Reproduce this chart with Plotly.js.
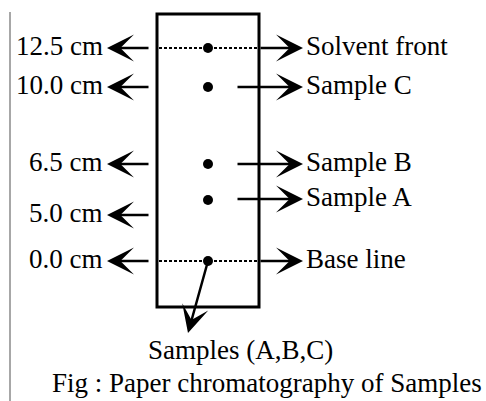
<!DOCTYPE html>
<html>
<head>
<meta charset="utf-8">
<script src="https://cdn.plot.ly/plotly-3.0.1.min.js"></script>
<style>
html,body{margin:0;padding:0;background:#fff;}
#chart{width:486px;height:401px;}
</style>
</head>
<body>
<div id="chart"></div>
<script>
// ---- data ----
const distanceLabels = ['12.5 cm', '10.0 cm', '6.5 cm', '5.0 cm', '0.0 cm'];
const sampleLabels = ['Solvent front', 'Sample C', 'Sample B', 'Sample A', 'Base line'];
const spotNames = ['Solvent front', 'Sample C', 'Sample B', 'Sample A', 'Base line'];
const bottomLabel = 'Samples (A,B,C)';
const figTitle = 'Fig : Paper chromatography of Samples';

// ---- schematic layout (diagram units, not to scale like the original) ----
const distanceRows = [48, 87, 164, 215, 261];
const sampleRows = [48, 87, 164, 199, 261];
const spotRows = [48, 87, 164, 200, 261];
const paper = {x0: 157, x1: 259, y0: 14, y1: 307};
const spotX = 208;

const FONT = {family: 'Liberation Serif, Times New Roman, serif', size: 27, color: '#000'};
const annotations = [];
const shapes = [];

// paper strip
shapes.push({type: 'rect', xref: 'x', yref: 'y', x0: paper.x0, x1: paper.x1, y0: paper.y0, y1: paper.y1,
  line: {color: '#000', width: 3}});
// dotted solvent front & base line
[spotRows[0], spotRows[4]].forEach(function (r) {
  shapes.push({type: 'line', xref: 'x', yref: 'y', x0: paper.x0 + 2, x1: paper.x1 - 1, y0: r, y1: r,
    line: {color: '#000', width: 2.2, dash: '3px,2px'}});
});
// thin grey rule on the left
shapes.push({type: 'line', xref: 'x', yref: 'y', x0: 10, x1: 10, y0: 12, y1: 401,
  line: {color: '#8a8a8a', width: 1.5}});

function arrow(xTip, yTip, xTail, yTail) {
  annotations.push({x: xTip, y: yTip, ax: xTail, ay: yTail, xref: 'x', yref: 'y', axref: 'x', ayref: 'y',
    text: '', showarrow: true, arrowhead: 3, arrowsize: 1.8, arrowwidth: 2.5, arrowcolor: '#000', standoff: 0, startstandoff: 0});
}

// left distance labels with arrows
distanceLabels.forEach(function (t, i) {
  arrow(107, distanceRows[i], 150, distanceRows[i]);
  annotations.push({x: 105, y: distanceRows[i], xref: 'x', yref: 'y', text: t, showarrow: false,
    xanchor: 'right', yanchor: 'middle', font: FONT, yshift: 2});
});
// right sample labels with arrows
sampleLabels.forEach(function (t, i) {
  const tail = (i === 0 || i === sampleLabels.length - 1) ? paper.x1 : 236;
  arrow(303, sampleRows[i], tail, sampleRows[i]);
  annotations.push({x: 304, y: sampleRows[i], xref: 'x', yref: 'y', text: t, showarrow: false,
    xanchor: 'left', yanchor: 'middle', font: FONT, yshift: 2});
});
// arrow from base spot to the bottom label
arrow(188, 333, spotX, spotRows[4]);
annotations.push({x: 240, y: 352, xref: 'x', yref: 'y', text: bottomLabel, showarrow: false,
  xanchor: 'center', yanchor: 'middle', font: FONT, yshift: 2});
annotations.push({x: 267, y: 385, xref: 'x', yref: 'y', text: figTitle, showarrow: false,
  xanchor: 'center', yanchor: 'middle', font: FONT, yshift: 2});

const spots = {
  type: 'scatter', mode: 'markers',
  x: spotNames.map(function () { return spotX; }),
  y: spotRows,
  text: spotNames,
  hoverinfo: 'text',
  marker: {color: '#000', size: 10},
  showlegend: false,
  cliponaxis: false
};

const layout = {
  width: 486, height: 401,
  margin: {l: 0, r: 0, t: 0, b: 0},
  paper_bgcolor: '#fff', plot_bgcolor: '#fff',
  xaxis: {range: [0, 486], visible: false, fixedrange: true},
  yaxis: {range: [401, 0], visible: false, fixedrange: true},
  shapes: shapes,
  annotations: annotations,
  showlegend: false
};

Plotly.newPlot('chart', [spots], layout, {displayModeBar: false, staticPlot: true});
</script>
</body>
</html>
